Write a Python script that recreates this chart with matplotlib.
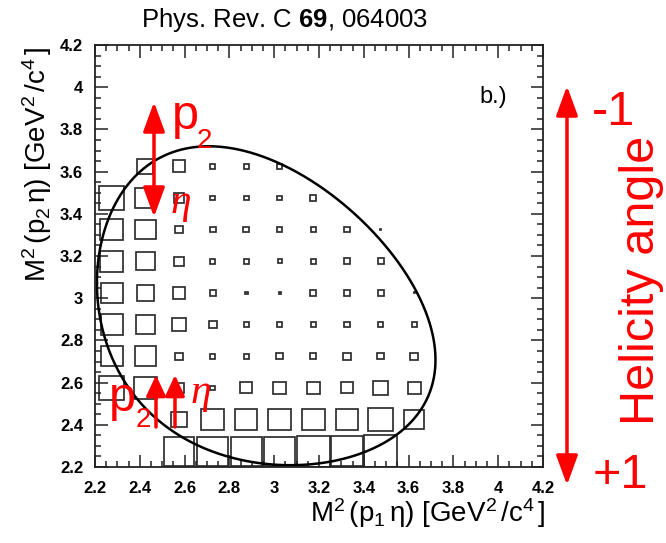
import numpy as np
import matplotlib
matplotlib.use("Agg")
import matplotlib.pyplot as plt
from matplotlib.patches import Rectangle, FancyArrowPatch
from matplotlib.ticker import MultipleLocator, FixedLocator, FixedFormatter

plt.rcParams['font.family'] = ['Liberation Sans', 'DejaVu Sans']
plt.rcParams['mathtext.fontset'] = 'custom'
plt.rcParams['mathtext.rm'] = 'Liberation Sans'
plt.rcParams['mathtext.it'] = 'Liberation Sans:italic'
plt.rcParams['mathtext.bf'] = 'Liberation Sans:bold'

# ================= data =================
# bin centres of the Dalitz histogram, M^2 in GeV^2/c^4
x_centers = [2.275, 2.425, 2.575, 2.725, 2.875, 3.025, 3.175, 3.325, 3.475, 3.625]
y_centers = [2.275, 2.425, 2.575, 2.725, 2.875, 3.025, 3.175, 3.325, 3.475, 3.625]
bin_width = 0.15

# box contents (relative), rows from bottom (y=2.275) to top (y=3.625)
counts = [
    [0, 0, 31, 31, 31, 31, 33, 32, 34, 0],
    [0, 0, 17, 23, 22, 23, 23, 23, 25, 20],
    [25, 23, 10, 5, 12, 13, 13, 12, 15, 13],
    [22, 22, 8, 5, 5, 7, 6, 8, 7, 8],
    [22, 20, 14, 8, 5, 5, 5, 6, 5, 5],
    [22, 17, 13, 6, 3, 2, 6, 6, 6, 1],
    [23, 19, 10, 5, 5, 4, 5, 6, 6, 0],
    [23, 21, 8, 6, 6, 5, 5, 6, 1, 0],
    [25, 22, 10, 5, 5, 5, 6, 1, 0, 0],
    [0, 16, 13, 5, 5, 5, 0, 0, 0, 0],
]

# kinematics of pp -> pp eta for the Dalitz boundary (GeV)
m_p = 0.93827
m_eta = 0.54786
sqrt_s = 2.867

tick_values = [2.2, 2.4, 2.6, 2.8, 3.0, 3.2, 3.4, 3.6, 3.8, 4.0, 4.2]
tick_labels = ['2.2', '2.4', '2.6', '2.8', '3', '3.2', '3.4', '3.6', '3.8', '4', '4.2']
# ========================================

W, H = 666, 543


def fxy(x, y):
    # pixel position in the picture -> figure fraction
    return x / W, 1 - y / H


def dalitz_boundary(n=600):
    m1, m2, m3, M = m_p, m_eta, m_p, sqrt_s
    lo, hi = (m1 + m2) ** 2, (M - m3) ** 2
    t = np.linspace(0, np.pi, n)
    s12 = lo + (hi - lo) * (1 - np.cos(t)) / 2
    m12 = np.sqrt(s12)
    e2 = (s12 - m1 ** 2 + m2 ** 2) / (2 * m12)
    e3 = (M ** 2 - s12 - m3 ** 2) / (2 * m12)
    q2 = np.sqrt(np.clip(e2 ** 2 - m2 ** 2, 0, None))
    q3 = np.sqrt(np.clip(e3 ** 2 - m3 ** 2, 0, None))
    ylo = (e2 + e3) ** 2 - (q2 + q3) ** 2
    yhi = (e2 + e3) ** 2 - (q2 - q3) ** 2
    return np.concatenate([s12, s12[::-1]]), np.concatenate([ylo, yhi[::-1]])


fig = plt.figure(figsize=(6.66, 5.43), dpi=100)
ax = fig.add_axes([95 / W, 1 - 467 / H, 448 / W, 422 / H])

# boxes
cmax = max(max(r) for r in counts)
for i, yc in enumerate(y_centers):
    for j, xc in enumerate(x_centers):
        c = counts[i][j]
        if c <= 0:
            continue
        s = bin_width * c / cmax
        ax.add_patch(Rectangle((xc - s / 2, yc - s / 2), s, s, fill=False,
                               ec='#2e2e2e', lw=1.25))

bx, by = dalitz_boundary()
ax.plot(bx, by, color='black', lw=1.8)

ax.set_xlim(2.2, 4.2)
ax.set_ylim(2.2, 4.2)
for axis in (ax.xaxis, ax.yaxis):
    axis.set_major_locator(FixedLocator(tick_values))
    axis.set_major_formatter(FixedFormatter(tick_labels))
    axis.set_minor_locator(MultipleLocator(0.05))
ax.tick_params(which='both', direction='in', top=True, right=True,
               width=1.1, color='#222222')
ax.tick_params(which='major', length=9)
ax.tick_params(which='minor', length=4.5)
ax.tick_params(axis='x', pad=10)
ax.tick_params(axis='y', pad=8.5)
for lab in ax.get_xticklabels() + ax.get_yticklabels():
    lab.set_fontweight('bold')
    lab.set_fontsize(12)
for sp in ax.spines.values():
    sp.set_linewidth(1.3)
    sp.set_color('#222222')

# axis titles, ROOT style (right aligned at axis end)
xlab = 'M$^{2}\\,$(p$_{1}\\,$η) [GeV$^{2}\\,$/c$^{4}\\,$]'
ylab = 'M$^{2}\\,$(p$_{2}\\,$η) [GeV$^{2}\\,$/c$^{4}\\,$]'
fig.text(*fxy(545, 522), xlab, ha='right', va='baseline', fontsize=20)
fig.text(*fxy(46, 47), ylab, ha='right', va='baseline', rotation=90,
         rotation_mode='anchor', fontsize=20)

fig.text(*fxy(285, 27), 'Phys. Rev. C $\\mathbf{69}$, 064003',
         ha='center', va='baseline', fontsize=18.5)
fig.text(*fxy(479, 103), 'b.)', ha='left', va='baseline', fontsize=17)

# red annotations
red = '#ff0000'


def red_arrow(p0, p1, style, scale):
    fig.add_artist(FancyArrowPatch(fxy(*p0), fxy(*p1), transform=fig.transFigure,
                                   arrowstyle=style, mutation_scale=scale,
                                   color=red, lw=2.5, shrinkA=0, shrinkB=0))


red_arrow((154, 217), (154, 102), '<|-|>,head_length=0.9,head_width=0.33', 20)
red_arrow((156, 427), (156, 375), '-|>,head_length=0.9,head_width=0.42', 14)
red_arrow((175, 427), (175, 375), '-|>,head_length=0.9,head_width=0.42', 14)
red_arrow((567, 485), (567, 86), '<|-|>,head_length=0.9,head_width=0.33', 20)

fig.text(*fxy(172, 129), 'p', color=red, fontsize=35, ha='left', va='baseline')
fig.text(*fxy(197, 148), '2', color=red, fontsize=20, ha='left', va='baseline')
fig.text(*fxy(171, 213), 'η', color=red, fontsize=30, ha='left', va='baseline',
         family='Liberation Serif', style='italic')

fig.text(*fxy(109, 411), 'p', color=red, fontsize=35, ha='left', va='baseline')
fig.text(*fxy(136, 427), '2', color=red, fontsize=20, ha='left', va='baseline')
fig.text(*fxy(191, 403), 'η', color=red, fontsize=30, ha='left', va='baseline',
         family='Liberation Serif', style='italic')

fig.text(*fxy(613, 125), '-1', color=red, fontsize=35, ha='center', va='baseline')
fig.text(*fxy(620, 488), '+1', color=red, fontsize=35, ha='center', va='baseline')
fig.text(*fxy(641, 280), 'Helicity angle', color=red, fontsize=35,
         ha='center', va='center', rotation=90)

fig.savefig('out.png', dpi=100)
